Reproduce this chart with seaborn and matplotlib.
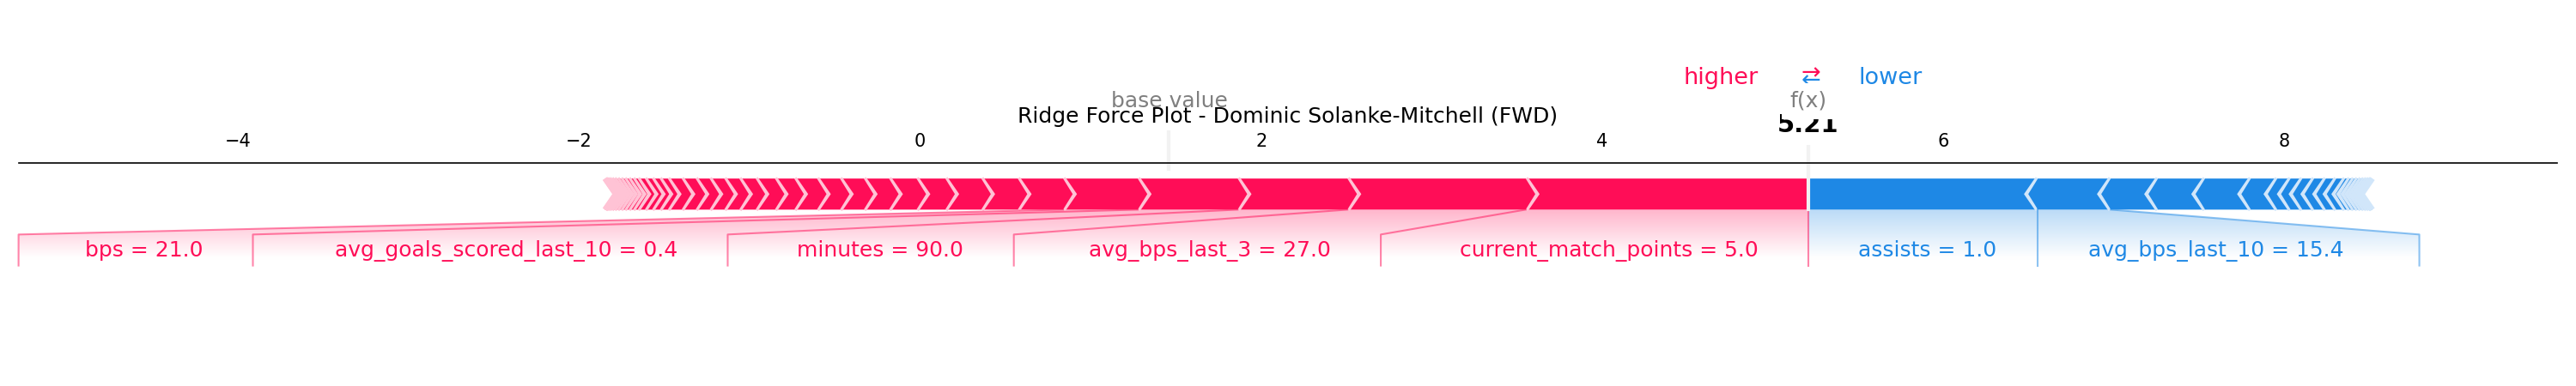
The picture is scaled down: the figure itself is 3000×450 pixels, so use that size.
"""SHAP-style additive force plot for a single Ridge prediction."""

import numpy as np
import matplotlib
matplotlib.use("Agg")
import matplotlib.pyplot as plt
from matplotlib import lines
from matplotlib.path import Path
from matplotlib.patches import PathPatch
from matplotlib.font_manager import FontProperties
import seaborn as sns

TITLE = "Ridge Force Plot - Dominic Solanke-Mitchell (FWD)"
base_value = 1.46

# features pushing the prediction higher (largest first)
pos_names = ["current_match_points", "avg_bps_last_3", "minutes",
             "avg_goals_scored_last_10", "bps"]
pos_values = ["5.0", "27.0", "90.0", "0.4", "21.0"]
pos_effects = [1.658, 1.046, 0.644, 0.586, 0.438]
# remaining positive contributions, too small to get a label
pos_small = [0.266, 0.214, 0.211, 0.169, 0.161, 0.148, 0.140, 0.135, 0.133,
             0.114, 0.113, 0.096, 0.088, 0.086, 0.082, 0.082, 0.081, 0.048,
             0.045, 0.042, 0.042, 0.028, 0.026, 0.024, 0.022, 0.020, 0.018,
             0.016, 0.014, 0.012, 0.010, 0.002]

# features pushing the prediction lower
neg_names = ["assists", "avg_bps_last_10"]
neg_values = ["1.0", "15.4"]
neg_effects = [-1.347, -0.428]
neg_small = [-0.277, -0.276, -0.269, -0.155, -0.078, -0.069, -0.069, -0.069,
             -0.061, -0.052, -0.028, -0.024, -0.022, -0.020, -0.018, -0.016,
             -0.014, -0.012, -0.006]

RED, RED_LIGHT = "#FF0D57", "#FFC3D5"
BLUE, BLUE_LIGHT = "#1E88E5", "#D1E6FA"


def draw_bars(ax, out_value, edges, sign, colors, width_sep, bar_h=0.1):
    """Chevron segments; sign=+1 for positive effects, -1 for negative."""
    prev = out_value
    indent = sign * abs(width_sep)
    for i, edge in enumerate(edges):
        if sign > 0:
            left, right, sep = edge, prev, edge
        else:
            left, right, sep = prev, edge, edge
        prev = edge
        if i == 0:
            if sign > 0:
                pts = [[left, 0], [right, 0], [right, bar_h], [left, bar_h],
                       [left + indent, bar_h / 2]]
            else:
                pts = [[right, 0], [left, 0], [left, bar_h], [right, bar_h],
                       [right + indent, bar_h / 2]]
        else:
            pts = [[left, 0], [right, 0], [right + indent * 0.9, bar_h / 2],
                   [right, bar_h], [left, bar_h], [left + indent * 0.9, bar_h / 2]]
        ax.add_patch(plt.Polygon(pts, closed=True, fill=True,
                                 facecolor=colors[0], linewidth=0))
        sep_pts = [[sep, 0], [sep + indent, bar_h / 2], [sep, bar_h]]
        ax.add_patch(plt.Polygon(sep_pts, closed=False, fill=False,
                                 edgecolor=colors[1], lw=3))


def draw_labels(fig, ax, out_value, edges, texts, sign, colors,
                offset_text, total_effect, min_perc=0.05):
    start_text = out_value
    pre_val = out_value
    align = "right" if sign > 0 else "left"

    if sign > 0:
        ln = lines.Line2D([pre_val, pre_val], [0, -0.18], lw=1., alpha=0.5,
                          color=colors[0])
        ln.set_clip_on(False)
        ax.add_line(ln)

    box_end = out_value
    for edge, text in zip(edges, texts):
        if abs(edge - pre_val) / abs(total_effect) < min_perc or text is None:
            break
        val = edge
        t = ax.text(start_text - sign * offset_text, -0.15, text, fontsize=12,
                    color=colors[0], ha=align, va="baseline")
        t.set_bbox(dict(facecolor="none", edgecolor="none"))
        # need a draw to know how wide the label is in data units
        fig.canvas.draw()
        box = t.get_bbox_patch().get_extents().transformed(ax.transData.inverted())
        box_end_ = box.get_points()[0][0] if sign > 0 else box.get_points()[1][0]
        if box_end_ > ax.get_xlim()[1]:
            t.remove()
            break

        if sign * box_end_ > sign * val:
            xs, ys = [val, val], [0, -0.18]
            start_text = val
            box_end = val
        else:
            box_end = box_end_ - sign * offset_text
            xs, ys = [val, box_end, box_end], [0, -0.08, -0.18]
            start_text = box_end
        ln = lines.Line2D(xs, ys, lw=1., alpha=0.5, color=colors[0])
        ln.set_clip_on(False)
        ax.add_line(ln)
        pre_val = edge

    path = Path([[out_value, 0], [pre_val, 0], [box_end, -0.08],
                 [box_end, -0.2], [out_value, -0.2], [out_value, 0]])
    patch = PathPatch(path, facecolor="none", edgecolor="none")
    ax.add_patch(patch)

    lo, hi = ax.get_xlim()
    if box_end < lo:
        ax.set_xlim(box_end, hi)
    if box_end > hi:
        ax.set_xlim(lo, box_end)

    # faded shading under the labelled part of the bar
    cm = sns.blend_palette([colors[0], "white"], as_cmap=True)
    _, z = np.meshgrid(np.linspace(0, 10), np.linspace(-10, 10))
    im = ax.imshow(z, interpolation="quadric", cmap=cm, vmax=0.01, alpha=0.3,
                   origin="lower", extent=[out_value, box_end, 0, -0.31],
                   clip_on=True, aspect="auto")
    im.set_clip_path(patch)


pos_all = np.array(pos_effects + pos_small)
neg_all = np.abs(np.array(neg_effects + neg_small))
out_value = base_value + pos_all.sum() - neg_all.sum()

pos_edges = out_value - np.cumsum(pos_all)
neg_edges = out_value + np.cumsum(neg_all)
total_pos = pos_edges.max() - pos_edges.min()
total_neg = neg_edges.max() - neg_edges.min()
offset_text = (total_neg + total_pos) * 0.04

pos_texts = [f"{n} = {v}" for n, v in zip(pos_names, pos_values)] + [None] * len(pos_small)
neg_texts = [f"{n} = {v}" for n, v in zip(neg_names, neg_values)] + [None] * len(neg_small)

fig, ax = plt.subplots(figsize=(20, 3), dpi=150)
ax.set_ylim(-0.5, 0.15)
padding = max(total_pos, total_neg) * 0.2
ax.set_xlim(min(pos_edges.min(), base_value) - padding,
            max(neg_edges.max(), base_value) + padding)
ax.tick_params(top=True, bottom=False, left=False, right=False,
               labelleft=False, labeltop=True, labelbottom=False)
ax.locator_params(axis="x", nbins=12)
sns.despine(ax=ax, top=False, right=True, left=True, bottom=True)

width_sep = (ax.get_xlim()[1] - ax.get_xlim()[0]) / 200
draw_bars(ax, out_value, neg_edges, -1, (BLUE, BLUE_LIGHT), width_sep)
draw_bars(ax, out_value, pos_edges, 1, (RED, RED_LIGHT), width_sep)

total_effect = total_neg + total_pos
draw_labels(fig, ax, out_value, neg_edges, neg_texts, -1,
            (BLUE, BLUE_LIGHT), offset_text, total_effect)
draw_labels(fig, ax, out_value, pos_edges, pos_texts, 1,
            (RED, RED_LIGHT), offset_text, total_effect)

# higher / lower legend
ax.text(out_value - offset_text, 0.405, "higher", fontsize=13, color=RED, ha="right")
ax.text(out_value + offset_text, 0.405, "lower", fontsize=13, color=BLUE, ha="left")
ax.text(out_value, 0.4, r"$\leftarrow$", fontsize=13, color=BLUE, ha="center")
ax.text(out_value, 0.425, r"$\rightarrow$", fontsize=13, color=RED, ha="center")

# base value marker
ln = lines.Line2D([base_value, base_value], [0.13, 0.25], lw=2., color="#F2F2F2")
ln.set_clip_on(False)
ax.add_line(ln)
t = ax.text(base_value, 0.33, "base value", fontsize=12, alpha=0.5, ha="center")
t.set_bbox(dict(facecolor="white", edgecolor="white"))

# output value marker
ln = lines.Line2D([out_value, out_value], [0, 0.24], lw=2., color="#F2F2F2")
ln.set_clip_on(False)
ax.add_line(ln)
bold = FontProperties(weight="bold")
t = ax.text(out_value, 0.25, f"{out_value:.2f}", fontproperties=bold,
            fontsize=14, ha="center")
t.set_bbox(dict(facecolor="white", edgecolor="white"))
t = ax.text(out_value, 0.33, "f(x)", fontsize=12, alpha=0.5, ha="center")
t.set_bbox(dict(facecolor="white", edgecolor="white"))

ax.set_title(TITLE)
ax.set_position([0.0072, 0.0544, 0.9853, 0.5233])
fig.savefig("out.png", dpi=150)
plt.close(fig)
